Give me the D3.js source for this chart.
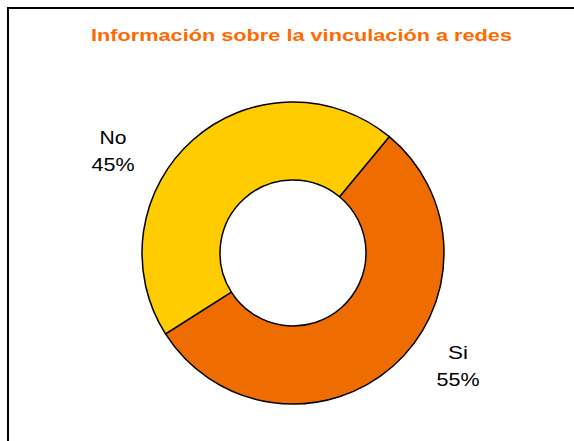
<!DOCTYPE html>
<html><head><meta charset="utf-8">
<script src="https://cdn.jsdelivr.net/npm/d3@7"></script>
<style>body{margin:0;background:#fff;} svg{display:block;}</style>
</head><body>
<svg id="c" width="574" height="441"></svg>
<script>
const categories = ["Si", "No"];
const values = [55, 45];
const labels = ["55%", "45%"];
const colors = ["#EF6C00", "#FFCC00"];
const title = "Información sobre la vinculación a redes";

const svg = d3.select("#c");
svg.append("rect").attr("x", 8).attr("y", 8).attr("width", 580).attr("height", 450)
  .attr("fill", "#fff").attr("stroke", "#000").attr("stroke-width", 2);

svg.append("text").attr("x", 91).attr("y", 41)
  .attr("font-family", "Liberation Sans, Arial, sans-serif").attr("font-weight", "bold")
  .attr("font-size", 17).attr("fill", "#FF6A00")
  .attr("textLength", 421).attr("lengthAdjust", "spacingAndGlyphs").text(title);

const cx = 293, cy = 253, rOut = 151, rIn = 73;
const start = 39.6 * Math.PI / 180;
const pie = d3.pie().sort(null).startAngle(start).endAngle(start + 2 * Math.PI);
const arcs = pie(values);
const arc = d3.arc().innerRadius(rIn).outerRadius(rOut);
const g = svg.append("g").attr("transform", `translate(${cx},${cy})`);
g.selectAll("path").data(arcs).join("path")
  .attr("d", arc).attr("fill", (d, i) => colors[i])
  .attr("stroke", "#000").attr("stroke-width", 1.5);

const labelPos = [[458, 352], [113, 137]];
arcs.forEach((d, i) => {
  const t = svg.append("text").attr("text-anchor", "middle")
    .attr("font-family", "Liberation Sans, Arial, sans-serif").attr("font-size", 19)
    .attr("fill", "#000");
  const w1 = categories[i] === "Si" ? 20 : 27;
  t.append("tspan").attr("x", labelPos[i][0]).attr("y", labelPos[i][1] + 7)
    .attr("textLength", w1).attr("lengthAdjust", "spacingAndGlyphs").text(categories[i]);
  t.append("tspan").attr("x", labelPos[i][0]).attr("y", labelPos[i][1] + 34)
    .attr("textLength", 43).attr("lengthAdjust", "spacingAndGlyphs").text(labels[i]);
});
</script>
</body></html>
